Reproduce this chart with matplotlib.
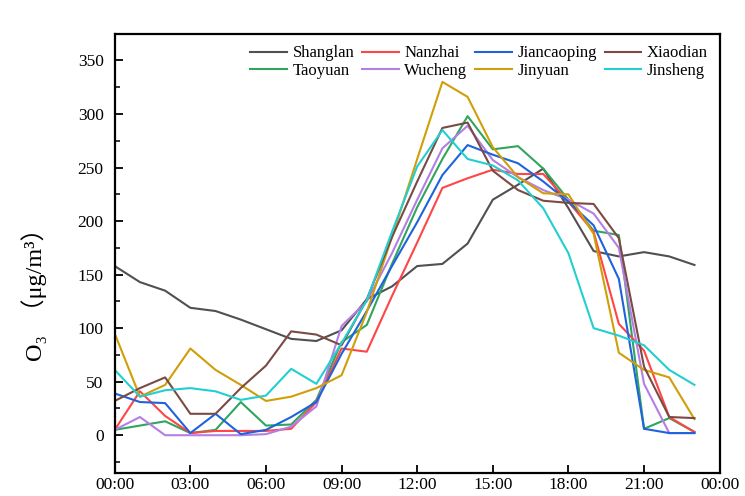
import matplotlib
matplotlib.use("Agg")
import matplotlib.pyplot as plt
from matplotlib.ticker import MultipleLocator

plt.rcParams['font.family'] = ['Liberation Serif', 'Noto Sans CJK SC', 'DejaVu Sans']

hours = list(range(24))
xtick_pos = [0, 3, 6, 9, 12, 15, 18, 21, 24]
xtick_labels = ['00:00', '03:00', '06:00', '09:00', '12:00', '15:00', '18:00', '21:00', '00:00']

# hourly O3 (ug/m3) per station
shanglan = [158, 143, 135, 119, 116, 108, 99, 90, 88, 98, 127, 139,
            158, 160, 179, 220, 234, 249, 212, 172, 167, 171, 167, 159]
nanzhai = [5, 41, 18, 2, 4, 4, 4, 6, 31, 81, 78, 130,
           180, 231, 240, 248, 244, 244, 218, 190, 104, 79, 17, 3]
jiancaoping = [39, 31, 30, 2, 20, 1, 5, 17, 31, 76, 116, 158,
               199, 243, 271, 262, 254, 237, 218, 196, 146, 6, 2, 2]
xiaodian = [32, 44, 54, 20, 20, 44, 65, 97, 94, 84, 127, 185,
            237, 287, 292, 247, 229, 219, 217, 216, 184, 64, 17, 16]
taoyuan = [5, 9, 13, 2, 5, 31, 9, 10, 33, 87, 103, 160,
           213, 258, 298, 267, 270, 249, 220, 191, 187, 6, 16, 3]
wucheng = [5, 17, 0, 0, 0, 0, 1, 8, 27, 102, 125, 170,
           220, 268, 289, 257, 241, 229, 220, 207, 175, 48, 2, 2]
jinyuan = [95, 36, 47, 81, 61, 47, 32, 36, 44, 56, 115, 185,
           258, 330, 316, 269, 241, 226, 225, 188, 77, 61, 54, 15]
jinsheng = [61, 36, 42, 44, 41, 33, 37, 62, 48, 86, 126, 190,
            251, 285, 258, 252, 238, 212, 170, 100, 93, 84, 61, 47]

fig = plt.figure(figsize=(7.45, 4.96), dpi=100)
ax = fig.add_axes([0.154, 0.047, 0.812, 0.885])

ax.plot(hours, shanglan, color='#505050', lw=1.5, label='Shanglan')
ax.plot(hours, taoyuan, color='#2fa65c', lw=1.5, label='Taoyuan')
ax.plot(hours, nanzhai, color='#ff4545', lw=1.5, label='Nanzhai')
ax.plot(hours, wucheng, color='#b47ee5', lw=1.5, label='Wucheng')
ax.plot(hours, jiancaoping, color='#1f63dc', lw=1.5, label='Jiancaoping')
ax.plot(hours, jinyuan, color='#d09e08', lw=1.5, label='Jinyuan')
ax.plot(hours, xiaodian, color='#7a4a44', lw=1.5, label='Xiaodian')
ax.plot(hours, jinsheng, color='#22cfd0', lw=1.5, label='Jinsheng')

ax.set_xlim(0, 24)
ax.set_ylim(-35, 375)
ax.set_xticks(xtick_pos)
ax.set_xticklabels(xtick_labels)
ax.set_yticks([0, 50, 100, 150, 200, 250, 300, 350])
ax.yaxis.set_minor_locator(MultipleLocator(25))
ax.tick_params(axis='both', which='major', direction='in', length=6, width=1.3,
               labelsize=12.5)
ax.tick_params(axis='x', which='major', pad=3)
ax.tick_params(axis='y', which='major', pad=8)
ax.tick_params(axis='y', which='minor', direction='in', length=3.5, width=1.1)
for s in ax.spines.values():
    s.set_linewidth(1.6)

ax.set_ylabel('O₃  （μg/m³）', fontsize=17.5)
ax.yaxis.set_label_coords(-0.112, 0.42)

ax.legend(ncol=4, loc='upper right', frameon=False,
          fontsize=12, handlelength=2.2, handletextpad=0.35, columnspacing=0.45,
          labelspacing=0.1, borderaxespad=0.3)

fig.savefig('out.png', dpi=100)
